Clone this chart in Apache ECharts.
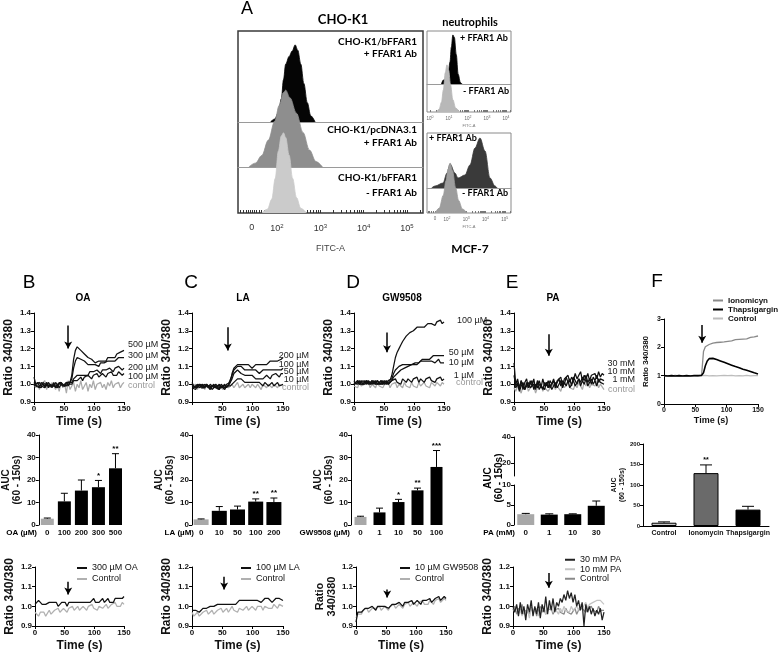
<!DOCTYPE html>
<html><head><meta charset="utf-8">
<script src="https://cdn.jsdelivr.net/npm/echarts@6/dist/echarts.min.js"></script>
<style>html,body{margin:0;padding:0;background:#fff}#c{width:782px;height:653px}</style>
</head><body><div id="c"></div>
<script>
// ---------------- DATA ----------------
const time=[0,3,6,9,12,15,18,21,24,27,30,33,36,39,42,45,48,51,54,57,60,63,66,69,72,75,78,81,84,87,90,93,96,99,102,105,108,111,114,117,120,123,126,129,132,135,138,141,144,147,150];
// B: OA
const oa500=[1.04,1.00,0.99,1.01,0.99,1.00,0.98,1.01,0.99,1.00,0.99,1.01,0.98,1.00,0.99,1.01,1.00,0.99,1.01,1.00,1.01,1.05,1.14,1.19,1.21,1.20,1.19,1.18,1.17,1.16,1.15,1.15,1.14,1.13,1.12,1.12,1.13,1.12,1.13,1.14,1.13,1.15,1.14,1.15,1.16,1.15,1.17,1.16,1.18,1.18,1.19];
const oa300=[1.01,0.99,1.00,0.98,1.01,1.00,0.99,1.01,0.98,1.00,1.01,0.99,1.00,0.98,1.01,1.00,0.99,1.00,1.01,0.99,1.00,1.03,1.09,1.13,1.15,1.15,1.14,1.13,1.13,1.12,1.11,1.12,1.11,1.10,1.11,1.11,1.10,1.12,1.11,1.12,1.11,1.13,1.12,1.13,1.14,1.13,1.14,1.15,1.14,1.15,1.15];
const oa200=[1.00,1.01,0.99,1.00,0.98,1.01,1.00,0.99,1.01,1.00,0.98,1.00,1.01,0.99,1.00,1.01,0.99,1.00,0.99,1.01,1.00,1.01,1.03,1.04,1.05,1.04,1.05,1.06,1.05,1.06,1.05,1.07,1.06,1.07,1.06,1.08,1.07,1.06,1.08,1.07,1.08,1.07,1.09,1.08,1.07,1.09,1.08,1.10,1.09,1.08,1.09];
const oa100=[0.99,1.00,1.01,0.99,1.00,1.00,0.98,1.00,1.01,0.99,1.00,0.99,1.01,1.00,0.98,1.00,1.01,0.99,1.00,1.00,0.99,1.00,1.02,1.03,1.02,1.03,1.04,1.02,1.04,1.03,1.05,1.04,1.03,1.05,1.04,1.06,1.04,1.05,1.06,1.05,1.04,1.06,1.05,1.07,1.05,1.06,1.05,1.07,1.06,1.05,1.06];
const oaCtl=[1.00,0.98,1.01,0.97,1.00,0.99,1.02,0.97,1.00,0.98,1.01,0.99,0.97,1.00,0.96,1.01,0.98,1.00,0.95,1.02,0.97,0.99,1.01,0.96,1.00,0.98,1.02,0.97,0.99,1.01,0.96,1.00,0.98,1.02,0.97,1.00,0.99,1.01,0.98,1.00,0.97,1.01,0.99,1.02,0.98,1.00,0.99,1.01,0.98,1.00,1.01];
// C: LA
const la200=[1.01,0.99,1.00,0.98,1.00,0.99,0.98,1.00,0.99,0.98,1.00,0.99,0.98,1.00,0.99,0.98,1.00,0.99,0.98,1.00,0.99,1.01,1.06,1.09,1.10,1.11,1.12,1.11,1.10,1.11,1.10,1.11,1.10,1.09,1.10,1.11,1.10,1.11,1.10,1.11,1.12,1.11,1.12,1.13,1.12,1.13,1.12,1.13,1.14,1.14,1.15];
const la100=[1.00,0.98,0.99,1.00,0.98,0.99,1.00,0.98,1.00,0.99,0.98,0.99,1.00,0.98,0.99,1.00,0.98,0.99,1.00,0.98,1.00,1.01,1.05,1.08,1.09,1.10,1.09,1.10,1.09,1.08,1.09,1.08,1.07,1.08,1.07,1.08,1.07,1.06,1.07,1.08,1.07,1.08,1.07,1.08,1.09,1.08,1.07,1.08,1.09,1.08,1.09];
const la50=[0.99,1.00,0.98,0.99,1.00,0.98,0.99,0.98,1.00,0.99,0.97,0.99,1.00,0.98,0.99,0.97,0.99,1.00,0.98,0.99,0.99,1.00,1.03,1.06,1.07,1.08,1.07,1.06,1.07,1.05,1.06,1.05,1.04,1.05,1.04,1.03,1.04,1.03,1.04,1.03,1.04,1.05,1.04,1.03,1.05,1.04,1.06,1.05,1.04,1.06,1.06];
const la10=[0.98,0.99,0.97,0.99,0.98,1.00,0.98,0.97,0.99,0.98,0.99,0.97,0.98,0.99,0.98,0.97,0.99,0.98,0.97,0.99,0.98,0.99,1.00,1.01,1.02,1.03,1.02,1.03,1.02,1.01,1.02,1.01,1.00,1.01,1.02,1.01,1.00,1.01,1.00,0.99,1.01,1.00,0.99,1.00,1.01,0.99,1.00,1.01,0.99,1.00,1.00];
const laCtl=[0.99,0.98,1.00,0.97,0.99,0.98,1.00,0.97,0.99,0.98,0.97,0.99,0.98,1.00,0.97,0.99,0.98,0.97,0.99,1.00,0.98,0.99,1.00,0.98,0.99,1.01,0.98,0.99,1.00,0.98,0.99,1.00,0.98,1.00,0.99,0.98,1.00,0.99,0.97,1.00,0.99,0.98,1.00,0.99,0.98,1.00,0.99,0.98,1.00,0.99,0.99];
// D: GW9508
const gw100=[1.01,1.02,1.00,1.01,1.02,1.00,1.01,1.02,1.01,1.00,1.02,1.01,1.00,1.02,1.01,1.00,1.02,1.01,1.00,1.01,1.02,1.05,1.10,1.15,1.18,1.20,1.22,1.24,1.25,1.27,1.28,1.29,1.30,1.30,1.31,1.32,1.31,1.32,1.33,1.32,1.33,1.34,1.33,1.34,1.35,1.33,1.35,1.34,1.36,1.34,1.35];
const gw50=[1.00,1.01,1.02,1.00,1.01,1.02,1.01,1.00,1.02,1.01,1.00,1.01,1.02,1.00,1.01,1.02,1.00,1.01,1.02,1.00,1.01,1.02,1.04,1.05,1.06,1.07,1.08,1.08,1.09,1.10,1.10,1.11,1.11,1.12,1.12,1.13,1.12,1.13,1.14,1.13,1.14,1.15,1.14,1.15,1.16,1.15,1.16,1.15,1.16,1.15,1.16];
const gw10=[1.02,1.00,1.01,1.02,1.00,1.01,1.00,1.02,1.01,1.00,1.01,1.02,1.00,1.01,1.00,1.02,1.01,1.00,1.01,1.02,1.01,1.03,1.06,1.08,1.09,1.10,1.10,1.11,1.10,1.11,1.10,1.11,1.12,1.11,1.12,1.11,1.12,1.13,1.12,1.13,1.12,1.13,1.12,1.13,1.14,1.12,1.13,1.14,1.12,1.13,1.12];
const gw1=[1.00,1.01,1.02,1.00,1.01,1.00,1.02,1.01,1.00,1.01,1.02,1.00,1.01,1.02,1.00,1.01,1.00,1.02,1.01,1.00,1.01,1.02,1.01,1.03,1.01,1.02,1.00,1.03,1.02,1.01,1.03,1.02,1.01,1.03,1.02,1.04,1.01,1.03,1.02,1.01,1.03,1.02,1.04,1.02,1.03,1.01,1.03,1.02,1.04,1.02,1.03];
const gwCtl=[0.99,1.00,0.98,1.01,0.99,0.98,1.00,0.99,1.01,0.98,1.00,0.99,0.98,1.01,0.99,1.00,0.98,1.00,0.99,1.01,0.98,1.00,0.99,1.01,0.98,1.00,0.99,0.98,1.01,0.99,1.00,0.98,1.01,0.99,1.00,0.98,1.01,0.99,1.00,1.01,0.99,1.00,0.98,1.01,1.00,0.99,1.01,1.00,0.99,1.01,1.00];
// E: PA
const pa30=[1.12,1.00,1.03,0.98,1.02,0.97,1.01,1.03,0.98,1.02,0.99,1.03,0.97,1.02,1.00,0.98,1.03,0.99,1.01,0.98,1.02,1.00,1.03,0.99,1.02,1.01,1.04,0.99,1.03,1.02,1.05,1.01,1.04,1.02,1.06,1.03,1.05,1.07,1.02,1.05,1.03,1.06,1.02,1.05,1.04,1.06,1.03,1.07,1.04,1.06,1.05];
const pa10=[1.05,0.99,1.01,0.97,1.02,0.99,0.97,1.01,0.98,1.00,1.02,0.97,1.00,0.98,1.02,0.99,0.97,1.01,0.99,1.02,0.98,1.00,1.02,0.98,1.01,1.03,0.99,1.02,1.00,1.04,1.01,1.03,0.99,1.04,1.02,1.00,1.03,1.01,1.04,1.02,1.05,1.01,1.03,1.00,1.04,1.02,1.05,1.01,1.03,1.04,1.02];
const pa1=[1.00,0.98,1.00,0.96,0.99,1.01,0.97,0.99,1.01,0.98,0.97,1.00,0.98,1.01,0.97,0.99,1.00,0.97,1.01,0.98,1.00,0.97,0.99,1.01,0.98,1.00,1.02,0.98,1.01,0.99,1.02,0.98,1.00,1.02,0.99,1.01,1.03,0.99,1.02,1.00,1.03,0.99,1.01,1.03,1.00,1.02,0.99,1.03,1.01,1.02,1.00];
const paCtl=[0.98,0.96,0.99,0.97,0.95,0.99,0.97,1.00,0.96,0.98,0.97,0.99,0.95,0.98,0.97,1.00,0.96,0.98,0.99,0.96,0.98,0.97,1.00,0.97,0.99,0.98,0.96,1.00,0.98,0.97,1.01,0.98,0.99,0.97,1.00,0.98,1.01,0.99,0.97,1.01,0.99,1.02,0.98,1.00,1.01,0.99,1.02,0.98,1.00,0.99,0.97];
// F
const ionoT=[1.00,0.99,1.00,1.00,0.99,1.00,1.01,1.00,0.99,1.00,1.00,0.99,1.00,1.01,1.00,0.99,1.00,1.00,0.99,1.00,1.02,1.85,2.02,2.08,2.10,2.12,2.15,2.14,2.17,2.16,2.18,2.20,2.19,2.22,2.21,2.24,2.23,2.25,2.27,2.26,2.28,2.30,2.29,2.32,2.30,2.33,2.35,2.34,2.37,2.36,2.40];
const thapT=[1.00,1.00,0.99,1.00,1.00,1.00,0.99,1.00,1.00,1.00,0.99,1.00,1.00,1.00,0.99,1.00,1.00,1.00,1.00,1.00,1.01,1.10,1.35,1.52,1.60,1.62,1.61,1.59,1.57,1.55,1.52,1.50,1.47,1.45,1.42,1.40,1.37,1.35,1.32,1.30,1.28,1.26,1.23,1.21,1.19,1.17,1.15,1.12,1.10,1.08,1.06];
const ctlT=[1.00,1.01,0.99,1.00,1.01,1.00,0.99,1.00,1.01,1.00,0.99,1.01,1.00,0.99,1.00,1.01,1.00,0.99,1.00,1.01,1.00,0.99,1.01,1.00,0.99,1.01,1.00,1.00,0.99,1.01,1.00,0.99,1.01,1.00,1.00,0.99,1.01,1.00,0.99,1.01,1.00,1.01,0.99,1.00,1.01,1.00,0.99,1.01,1.00,1.01,1.00];
// Row 3 traces
const b3oa=[1.01,1.02,1.03,1.02,1.01,1.02,1.01,1.00,1.02,1.01,1.02,1.01,1.02,1.00,1.01,1.02,1.01,1.02,1.00,1.02,1.01,1.02,1.01,1.02,1.01,1.02,1.01,1.02,1.03,1.02,1.03,1.02,1.03,1.04,1.02,1.03,1.02,1.03,1.04,1.02,1.03,1.04,1.02,1.03,1.02,1.04,1.03,1.04,1.03,1.04,1.05];
const b3ctl=[0.97,0.96,0.95,0.97,0.96,0.97,0.95,0.96,0.98,0.96,0.97,0.98,0.97,0.99,0.97,0.98,0.99,0.98,0.97,0.99,0.98,1.00,0.98,0.99,1.00,0.98,0.99,1.00,0.99,0.98,1.00,0.99,1.01,0.99,1.00,0.98,1.00,1.01,0.99,1.00,1.01,0.99,1.00,1.01,1.00,1.02,1.00,1.01,1.00,1.02,1.01];
const c3la=[0.98,0.97,0.98,0.99,0.97,0.98,0.99,0.98,0.99,0.98,1.00,0.99,1.00,0.99,1.01,1.00,1.01,1.00,1.01,1.02,1.01,1.02,1.01,1.02,1.01,1.02,1.03,1.02,1.03,1.04,1.03,1.02,1.03,1.04,1.03,1.04,1.03,1.04,1.02,1.03,1.04,1.03,1.04,1.03,1.02,1.03,1.04,1.03,1.04,1.03,1.03];
const c3ctl=[0.97,0.95,0.96,0.97,0.95,0.96,0.97,0.96,0.98,0.96,0.97,0.98,0.96,0.97,0.98,0.97,0.99,0.97,0.98,0.99,0.97,0.98,1.00,0.98,0.99,0.97,0.99,1.00,0.98,0.99,1.00,0.98,0.99,1.00,0.99,0.98,1.00,0.99,1.00,0.98,1.00,1.01,0.99,1.00,0.99,1.01,1.00,0.99,1.01,1.00,1.00];
const d3gw=[0.92,0.97,0.98,0.97,0.98,0.99,0.98,0.99,0.98,1.00,0.99,0.98,1.00,0.99,1.00,0.99,1.00,1.01,0.99,1.00,1.01,1.00,1.01,1.00,1.02,1.01,1.00,1.02,1.01,1.02,1.01,1.03,1.01,1.02,1.03,1.02,1.01,1.03,1.02,1.03,1.02,1.04,1.02,1.03,1.04,1.03,1.05,1.03,1.04,1.05,1.04];
const d3ctl=[0.94,0.96,0.97,0.96,0.98,0.97,0.99,0.97,0.98,0.99,0.98,0.99,0.98,1.00,0.98,0.99,1.00,0.99,0.98,1.00,0.99,1.01,0.99,1.00,1.01,1.00,0.99,1.01,1.00,1.02,1.00,1.01,1.02,1.01,1.00,1.02,1.01,1.03,1.01,1.02,1.01,1.03,1.02,1.01,1.03,1.02,1.04,1.02,1.03,1.04,1.03];
const e3pa30=[1.00,0.97,1.01,0.95,1.02,0.96,1.00,0.93,1.01,0.97,1.03,0.95,1.00,0.96,1.02,0.94,1.01,0.97,1.05,0.96,1.03,0.98,1.04,0.97,1.02,1.00,1.04,1.02,1.06,1.03,1.08,1.04,1.07,1.02,1.06,1.00,1.03,0.98,1.02,0.90,1.01,0.97,1.00,0.96,0.99,0.95,0.98,0.96,0.99,0.93,0.97];
const e3pa10=[0.99,0.97,1.00,0.96,0.98,0.95,0.99,0.96,0.98,0.94,0.99,0.97,0.96,0.99,0.95,0.98,0.97,1.00,0.96,0.99,0.98,1.00,0.97,0.99,0.98,0.96,0.99,0.97,1.00,0.98,0.99,0.97,1.00,0.98,0.99,1.00,0.98,1.01,0.99,1.00,1.02,0.99,1.01,1.00,1.02,1.01,1.03,1.02,1.03,1.02,1.01];
const e3ctl=[0.98,1.00,0.96,0.99,0.97,1.01,0.96,0.98,0.99,0.96,1.00,0.97,0.99,0.95,0.98,1.00,0.97,0.99,0.96,0.98,0.97,0.99,0.96,0.98,0.97,0.99,0.97,0.98,0.96,0.99,0.97,0.98,0.96,0.97,0.99,0.96,0.98,0.97,0.99,0.98,0.97,0.99,0.98,1.00,0.98,0.99,0.97,1.00,0.98,0.99,0.98];
// AUC bars
const oaDose=['0','100','200','300','500'], oaAUC=[2.8,10.5,15.3,16.8,25.2], oaSEM=[0.3,3.6,4.7,3.0,6.5], oaSig=['','','','*','**'];
const laDose=['0','10','50','100','200'], laAUC=[2.5,6.3,6.9,10.4,10.2], laSEM=[0.2,1.9,1.5,1.2,1.8], laSig=['','','','**','**'];
const gwDose=['0','1','10','50','100'], gwAUC=[3.6,5.6,10.2,15.4,25.8], gwSEM=[0.3,1.9,1.2,1.0,7.3], gwSig=['','','*','**','***'];
const paDose=['0','1','10','30'], paAUC=[2.7,2.6,2.7,4.8], paSEM=[0.2,0.2,0.1,1.2], paSig=['','','',''];
const fCats=['Control','Ionomycin','Thapsigargin'], fAUC=[8,129,40], fSEM=[2,20,8], fSig=['','**',''];
// Flow cytometry histograms (x in log decades, y relative counts)
const choPosX=[1.85,1.95,2.03,2.10,2.15,2.20,2.28,2.35,2.42,2.48,2.55,2.62,2.70,2.78,2.88];
const choPosY=[0,4,12,30,55,75,85,92,100,93,75,50,25,8,0];
const choVecX=[1.35,1.50,1.65,1.80,1.95,2.05,2.15,2.20,2.30,2.45,2.60,2.75,2.90,3.05];
const choVecY=[0,5,15,35,60,80,97,100,90,70,45,22,7,0];
const choNegX=[1.65,1.78,1.88,1.96,2.03,2.10,2.15,2.20,2.28,2.36,2.45,2.55,2.68];
const choNegY=[0,5,18,45,80,100,104,98,75,45,20,6,0];
const neuPosX=[0.60,0.70,0.85,0.95,1.05,1.12,1.20,1.28,1.38,1.48,1.60,1.68];
const neuPosY=[0,8,12,20,45,75,100,95,60,20,3,0];
const neuNegX=[0.35,0.48,0.60,0.70,0.80,0.89,0.98,1.08,1.20,1.35,1.55];
const neuNegY=[0,6,20,45,80,96,85,55,25,8,0];
const mcfPosX=[1.20,1.38,1.79,2.00,2.16,2.41,2.57,2.93,3.19,3.45,3.71,3.97,4.23,4.49,4.60];
const mcfPosY=[0,4,10,30,48,30,20,26,46,80,100,74,20,4,0];
const mcfNegX=[1.38,1.60,1.80,1.95,2.05,2.16,2.28,2.45,2.60,2.80,3.04];
const mcfNegY=[0,10,35,65,88,100,85,50,25,8,0];

// ---------------- BUILD ----------------
const AR='Liberation Sans', CAL='Lato';
const grids=[],xAxis=[],yAxis=[],series=[],graphic=[],legend=[];
function panel(g,x,y){const i=grids.length;grids.push(g);x.gridIndex=i;y.gridIndex=i;xAxis.push(x);yAxis.push(y);return i;}
const axLine={show:true,lineStyle:{color:'#000',width:1}};
const tickS={show:true,length:3,lineStyle:{color:'#000',width:1}};
function tl(sz){return {fontSize:sz,fontWeight:'bold',color:'#111',fontFamily:AR,margin:3};}

function tracePanel(b,yr,o){
  return panel({left:b[0],top:b[1],width:b[2],height:b[3]},
   {type:'value',min:0,max:150,interval:50,axisLine:axLine,axisTick:tickS,
    axisLabel:Object.assign(tl(o.fx||8),{formatter:o.xfmt||(v=>String(v))}),splitLine:{show:false},
    name:'Time (s)',nameLocation:'middle',nameGap:o.xGap||14,
    nameTextStyle:{fontSize:o.xName||12,fontWeight:'bold',color:'#111',fontFamily:AR}},
   {type:'value',min:yr[0],max:yr[1],interval:yr[2],axisLine:axLine,axisTick:tickS,
    axisLabel:Object.assign(tl(o.fy||8),{formatter:o.yfmt||(v=>v.toFixed(1))}),splitLine:{show:false},
    name:o.yName,nameLocation:'middle',nameGap:o.yGap||18,
    nameTextStyle:{fontSize:o.yNameSize||12,fontWeight:'bold',color:'#111',fontFamily:AR,lineHeight:o.yLH||14}});
}
function trace(gi,vals,color,name,w){
  const s={type:'line',xAxisIndex:gi,yAxisIndex:gi,data:time.map((t,i)=>[t,vals[i]]),showSymbol:false,symbol:'none',
    color:color,lineStyle:{color:color,width:w||1.25},silent:true,animation:false};
  if(name) s.name=name;
  series.push(s);return s;
}
function arrow(s,x,y1,y2){
  s.markLine={silent:true,symbol:['none','arrow'],symbolSize:[6,7],
    lineStyle:{color:'#000',width:1.5,type:'solid'},label:{show:false},emphasis:{disabled:true},
    data:[[{coord:[x,y1]},{coord:[x,y2]}]],animation:false};
}
function barPanel(b,cats,ymin,ymax,yint,o){
  return panel({left:b[0],top:b[1],width:b[2],height:b[3]},
   {type:'category',data:cats,show:o.xShow!==false,axisLine:{show:!!o.xLine,lineStyle:{color:'#000'}},axisTick:{show:false},
    axisLabel:{fontSize:o.fx||8,fontWeight:'bold',color:'#111',fontFamily:AR,margin:o.xm||4,interval:0},splitLine:{show:false}},
   {type:'value',min:ymin,max:ymax,interval:yint,axisLine:axLine,
    axisTick:Object.assign({},tickS,o.tickVals?{customValues:o.tickVals}:{}),
    axisLabel:Object.assign(tl(o.fy||8),o.tickVals?{customValues:o.tickVals}:{}),splitLine:{show:false},
    name:o.yName,nameLocation:'middle',nameGap:o.yGap||14,
    nameTextStyle:{fontSize:o.yNameSize||10,fontWeight:'bold',color:'#111',fontFamily:AR,lineHeight:o.yLH||11}});
}
function bars(gi,means,colors,bw,border){
  series.push({type:'bar',xAxisIndex:gi,yAxisIndex:gi,barWidth:bw,silent:true,animation:false,
    data:means.map((m,i)=>({value:m,itemStyle:{color:colors[i],borderColor:'#000',borderWidth:border?1:0}}))});
}
function errBars(gi,means,sems,sigs,cap,starSize){
  series.push({type:'custom',xAxisIndex:gi,yAxisIndex:gi,silent:true,animation:false,z:5,
    data:means.map((m,i)=>[i,m]),
    renderItem:function(p,api){
      const i=p.dataIndex,m=means[i],e=sems[i];
      const a=api.coord([i,m]),c=api.coord([i,m+e]);
      const ch=[{type:'line',shape:{x1:a[0],y1:a[1],x2:c[0],y2:c[1]},style:{stroke:'#000',lineWidth:1}},
                {type:'line',shape:{x1:c[0]-cap/2,y1:c[1],x2:c[0]+cap/2,y2:c[1]},style:{stroke:'#000',lineWidth:1}}];
      if(sigs[i]) ch.push({type:'text',x:c[0],y:c[1]-1,style:{text:sigs[i],align:'center',verticalAlign:'bottom',font:'bold '+(starSize||8)+'px '+AR,fill:'#000'}});
      return {type:'group',children:ch};
    }});
}
function hist(gi,xs,ys,color,z){
  series.push({type:'line',xAxisIndex:gi,yAxisIndex:gi,data:xs.map((x,i)=>[x,ys[i]]),smooth:0.35,smoothMonotone:'x',
    showSymbol:false,symbol:'none',lineStyle:{color:color,width:0.8},areaStyle:{color:color,opacity:1},z:z,silent:true,animation:false});
}
function txt(text,x,y,font,o){
  o=o||{};
  const g={type:'text',x:x,y:y,silent:true,z:100,style:{text:text,font:font,fill:o.fill||'#000',align:o.align||'left',verticalAlign:'middle'}};
  if(o.rotation) g.rotation=o.rotation;
  if(o.lh) g.style.lineHeight=o.lh;
  graphic.push(g);
}
const disp={b3oa:'300 µM OA',b3ctl:'Control',c3la:'100 µM LA',c3ctl:'Control',d3gw:'10 µM GW9508',d3ctl:'Control',
  e3pa30:'30 mM PA',e3pa10:'10 mM PA',e3ctl:'Control',fIon:'Ionomicyn',fThap:'Thapsigargin',fCtl:'Control'};
function lg(left,top,items,fs,lh,gap,bold){
  legend.push({left:left,top:top,orient:'vertical',itemGap:gap,itemWidth:10,itemHeight:2,icon:'rect',padding:0,
    selectedMode:false,data:items,formatter:n=>disp[n]||n,
    textStyle:{fontSize:fs,lineHeight:lh,color:'#111',fontFamily:AR,fontWeight:bold?'bold':'normal'}});
}

// ---- Panel A: flow cytometry ----
const supRich={b:{fontSize:9,color:'#333',fontFamily:AR},s:{fontSize:6,color:'#333',fontFamily:AR,verticalAlign:'top',padding:[0,0,6,0]}};
const choTicks=[1.15,1.22,1.28,1.33,1.38,1.42,1.47,1.52,1.58,1.64,1.70,1.76,1.82,1.88,1.94];
[2,3,4].forEach(d=>{for(let k=1;k<10;k++)choTicks.push(d+Math.log10(k));});
choTicks.push(5,5.301);
const gA1=panel({left:238,top:31,width:185,height:91},
  {type:'value',min:1.1,max:5.37,axisLine:{show:true,lineStyle:{color:'#9a9a9a',width:1}},axisTick:{show:false},axisLabel:{show:false},splitLine:{show:false}},
  {type:'value',min:0,max:118,show:false});
const gA2=panel({left:238,top:31,width:185,height:136},
  {type:'value',min:1.1,max:5.37,axisLine:{show:true,lineStyle:{color:'#9a9a9a',width:1}},axisTick:{show:false},axisLabel:{show:false},splitLine:{show:false}},
  {type:'value',min:0,max:177,show:false});
const gA3=panel({left:238,top:31,width:185,height:182,show:true,borderColor:'#3a3a3a',borderWidth:1.5},
  {type:'value',min:1.1,max:5.37,axisLine:{show:false},
   axisTick:{show:true,inside:true,length:3,customValues:choTicks,lineStyle:{color:'#333'}},
   axisLabel:{customValues:[1.42,2,3,4,5],margin:10,rich:supRich,
     formatter:v=>v<1.9?'{b|0}':'{b|10}{s|'+Math.round(v)+'}'},
   splitLine:{show:false},name:'FITC-A',nameLocation:'middle',nameGap:31,
   nameTextStyle:{fontSize:9,color:'#444',fontFamily:AR}},
  {type:'value',min:0,max:236,show:false});
hist(gA1,choPosX,choPosY,'#050505',2);
hist(gA2,choVecX,choVecY,'#8e8e8e',3);
hist(gA3,choNegX,choNegY,'#cbcbcb',4);

const tinyRich={b:{fontSize:4.5,color:'#666',fontFamily:AR},s:{fontSize:3.5,color:'#666',fontFamily:AR,verticalAlign:'top',padding:[0,0,3,0]}};
const neuTicks=[];[0,1,2,3].forEach(d=>{for(let k=1;k<10;k++)neuTicks.push(d+Math.log10(k));});neuTicks.push(4,4.2);
const gN1=panel({left:427,top:31,width:84,height:53},
  {type:'value',min:-0.16,max:4.26,axisLine:{show:true,lineStyle:{color:'#9a9a9a',width:1}},axisTick:{show:false},axisLabel:{show:false},splitLine:{show:false}},
  {type:'value',min:0,max:108,show:false});
const gN2=panel({left:427,top:31,width:84,height:81,show:true,borderColor:'#8a8a8a',borderWidth:1},
  {type:'value',min:-0.16,max:4.26,axisLine:{show:false},
   axisTick:{show:true,inside:true,length:2,customValues:neuTicks,lineStyle:{color:'#777'}},
   axisLabel:{customValues:[0,1,2,3,4],margin:3,rich:tinyRich,formatter:v=>'{b|10}{s|'+Math.round(v)+'}'},
   splitLine:{show:false},name:'FITC-A',nameLocation:'middle',nameGap:12,nameTextStyle:{fontSize:4,color:'#777',fontFamily:AR}},
  {type:'value',min:0,max:165,show:false});
hist(gN1,neuPosX,neuPosY,'#000000',2);
hist(gN2,neuNegX,neuNegY,'#b8b8b8',3);

const mcfTicks=[1.0,1.1,1.2,1.3,1.38,1.5,1.6,1.7,1.8,1.9];[2,3,4].forEach(d=>{for(let k=1;k<10;k++)mcfTicks.push(d+Math.log10(k));});mcfTicks.push(5,5.3);
const gM1=panel({left:427,top:133,width:84,height:55},
  {type:'value',min:0.96,max:5.32,axisLine:{show:true,lineStyle:{color:'#9a9a9a',width:1}},axisTick:{show:false},axisLabel:{show:false},splitLine:{show:false}},
  {type:'value',min:0,max:110,show:false});
const gM2=panel({left:427,top:133,width:84,height:80,show:true,borderColor:'#8a8a8a',borderWidth:1},
  {type:'value',min:0.96,max:5.32,axisLine:{show:false},
   axisTick:{show:true,inside:true,length:2,customValues:mcfTicks,lineStyle:{color:'#777'}},
   axisLabel:{customValues:[1.38,2,3,4,5],margin:3,rich:tinyRich,formatter:v=>v<1.9?'{b|0}':'{b|10}{s|'+Math.round(v)+'}'},
   splitLine:{show:false},name:'FITC-A',nameLocation:'middle',nameGap:12,nameTextStyle:{fontSize:4,color:'#777',fontFamily:AR}},
  {type:'value',min:0,max:160,show:false});
hist(gM1,mcfPosX,mcfPosY,'#3a3a3a',2);
hist(gM2,mcfNegX,mcfNegY,'#9d9d9d',3);

// ---- Row 1: Ca traces ----
const gB1=tracePanel([34,313,90,89],[0.9,1.4,0.1],{yName:'Ratio 340/380',yGap:18});
trace(gB1,oaCtl,'#aaaaaa');trace(gB1,oa100,'#111');trace(gB1,oa200,'#111');trace(gB1,oa300,'#111');
arrow(trace(gB1,oa500,'#111'),57,1.33,1.20);
const gC1=tracePanel([192,313,91,89],[0.9,1.4,0.1],{yName:'Ratio 340/380',yGap:18,xfmt:v=>v===0?'':String(v)});
trace(gC1,laCtl,'#aaaaaa');trace(gC1,la10,'#111');trace(gC1,la50,'#111');trace(gC1,la100,'#111');
arrow(trace(gC1,la200,'#111'),59,1.32,1.19);
const gD1=tracePanel([354,313,90,89],[0.9,1.4,0.1],{yName:'Ratio 340/380',yGap:18});
trace(gD1,gwCtl,'#aaaaaa');trace(gD1,gw1,'#111');trace(gD1,gw10,'#111');trace(gD1,gw50,'#111');
arrow(trace(gD1,gw100,'#111'),55,1.29,1.18);
const gE1=tracePanel([514,313,90,89],[0.9,1.4,0.1],{yName:'Ratio 340/380',yGap:15});
trace(gE1,paCtl,'#aaaaaa');trace(gE1,pa1,'#111');trace(gE1,pa10,'#111');
arrow(trace(gE1,pa30,'#111'),58,1.28,1.16);
const gF1=tracePanel([664,319,94,85],[0,3,1],{yName:'Ratio 340/380',yNameSize:8,yGap:8,fx:7,fy:7,xName:9,xGap:12,yfmt:v=>String(v)});
trace(gF1,ctlT,'#bdbdbd','fCtl',1.2);trace(gF1,ionoT,'#8a8a8a','fIon',1.3);
arrow(trace(gF1,thapT,'#000','fThap',1.6),61,2.79,2.16);
lg(713,296,['fIon','fThap','fCtl'],8,9,0,true);

// ---- Row 2: AUC bars ----
const gB2=barPanel([34,435,90,90],oaDose,0,40,10,{yName:'AUC\n(60 - 150s)',yGap:14});
bars(gB2,oaAUC,['#a8a8a8','#000','#000','#000','#000'],13,false);errBars(gB2,oaAUC,oaSEM,oaSig,7);
const gC2=barPanel([192,435,91,90],laDose,0,40,10,{yName:'AUC\n(60 - 150s)',yGap:14});
bars(gC2,laAUC,['#a8a8a8','#000','#000','#000','#000'],15,false);errBars(gC2,laAUC,laSEM,laSig,7);
const gD2=barPanel([351,435,95,90],gwDose,0,40,10,{yName:'AUC\n(60 - 150s)',yGap:14});
bars(gD2,gwAUC,['#a8a8a8','#000','#000','#000','#000'],12,false);errBars(gD2,gwAUC,gwSEM,gwSig,7);
const gE2u=barPanel([514,437,94,39],paDose,10,40,10,{xShow:false,tickVals:[20,40]});
const gE2=barPanel([514,485,94,40],paDose,0,10,5,{});
bars(gE2,paAUC,['#a8a8a8','#000','#000','#000'],17,false);errBars(gE2,paAUC,paSEM,paSig,8);
const gF2=barPanel([643,444,126,82],fCats,0,200,50,{xLine:true,fx:7,fy:6,yName:'AUC\n(60 - 150s)',yNameSize:7,yLH:8,yGap:12});
bars(gF2,fAUC,['#c8c8c8','#6a6a6a','#000'],25,true);errBars(gF2,fAUC,fSEM,fSig,12,7);

// ---- Row 3: control traces ----
const gB3=tracePanel([35,567,89,60],[0.9,1.2,0.1],{yName:'Ratio 340/380',yGap:13});
trace(gB3,b3ctl,'#b0b0b0','b3ctl');arrow(trace(gB3,b3oa,'#111','b3oa'),56,1.125,1.06);
lg(77,563,['b3oa','b3ctl'],9,10,1);
const gC3=tracePanel([192,567,91,60],[0.9,1.2,0.1],{yName:'Ratio 340/380',yGap:13});
trace(gC3,c3ctl,'#b0b0b0','c3ctl');arrow(trace(gC3,c3la,'#111','c3la'),53,1.15,1.085);
lg(241,563,['c3la','c3ctl'],9,10,1);
const gD3=tracePanel([356,567,90,60],[0.9,1.2,0.1],{yName:'Ratio\n340/380',yNameSize:11,yLH:12,yGap:11});
trace(gD3,d3ctl,'#b0b0b0','d3ctl');arrow(trace(gD3,d3gw,'#111','d3gw'),52,1.085,1.045);
lg(400,563,['d3gw','d3ctl'],9,10,1);
const gE3=tracePanel([513,567,91,60],[0.9,1.2,0.1],{yName:'Ratio 340/380',yGap:13});
trace(gE3,e3ctl,'#8a8a8a','e3ctl');trace(gE3,e3pa10,'#c4c4c4','e3pa10');
arrow(trace(gE3,e3pa30,'#222','e3pa30'),59,1.17,1.095);
lg(565,555,['e3pa30','e3pa10','e3ctl'],9,9.5,0);

// ---- texts ----
const L='19px '+AR;
txt('A',247,9,'18px '+AR,{align:'center'});
txt('B',29,283,L,{align:'center'});txt('C',191,283,L,{align:'center'});txt('D',353,283,L,{align:'center'});
txt('E',512,283,L,{align:'center'});txt('F',657,282,L,{align:'center'});
const T='bold 10px '+AR;
txt('OA',83,298,T,{align:'center'});txt('LA',243,298,T,{align:'center'});
txt('GW9508',402,298,T,{align:'center'});txt('PA',553,298,T,{align:'center'});
txt('CHO-K1',343,20,'bold 13px '+CAL,{align:'center'});
txt('neutrophils',470,22,'bold 11px '+CAL,{align:'center'});
txt('MCF-7',470,249,'bold 12px '+CAL,{align:'center'});
const P='bold 10px '+CAL;
txt('CHO-K1/bFFAR1',417,42,P,{align:'right'});txt('+ FFAR1 Ab',417,54,P,{align:'right'});
txt('CHO-K1/pcDNA3.1',417,130,P,{align:'right'});txt('+ FFAR1 Ab',417,143,P,{align:'right'});
txt('CHO-K1/bFFAR1',417,178,P,{align:'right'});txt('- FFAR1 Ab',417,193,P,{align:'right'});
const Q='bold 9px '+CAL;
txt('+ FFAR1 Ab',460,38,Q);txt('- FFAR1 Ab',463,91,Q);
txt('+ FFAR1 Ab',429,138,Q);txt('- FFAR1 Ab',462,193,Q);
const S='9px '+AR, gr='#9a9a9a';
[['500 µM',345],['300 µM',356],['200 µM',368],['100 µM',377]].forEach(a=>txt(a[0],128,a[1],S,{fill:'#222'}));
txt('control',128,386,S,{fill:gr});
[['200 µM',356],['100 µM',365],['50 µM',372],['10 µM',380]].forEach(a=>txt(a[0],309,a[1],S,{align:'right',fill:'#222'}));
txt('control',309,388,S,{align:'right',fill:gr});
txt('100 µM',457,321,S,{fill:'#222'});
[['50 µM',353],['10 µM',363],['1 µM',376]].forEach(a=>txt(a[0],474,a[1],S,{align:'right',fill:'#222'}));
txt('control',483,383,S,{align:'right',fill:gr});
[['30 mM',364],['10 mM',372],['1 mM',380]].forEach(a=>txt(a[0],635,a[1],S,{align:'right',fill:'#222'}));
txt('control',635,390,S,{align:'right',fill:gr});
const X='bold 8px '+AR;
txt('OA (µM)',37,533,X,{align:'right'});txt('LA (µM)',194,533,X,{align:'right'});
txt('GW9508 (µM)',350,533,X,{align:'right'});txt('PA (mM)',515,533,X,{align:'right'});
txt('AUC\n(60 - 150s)',494,478,'bold 10px '+AR,{align:'center',rotation:Math.PI/2,lh:11});

const chart=echarts.init(document.getElementById('c'),null,{renderer:'canvas'});
chart.setOption({animation:false,backgroundColor:'#fff',textStyle:{fontFamily:AR},
  grid:grids,xAxis:xAxis,yAxis:yAxis,series:series,legend:legend,graphic:graphic});
</script></body></html>
